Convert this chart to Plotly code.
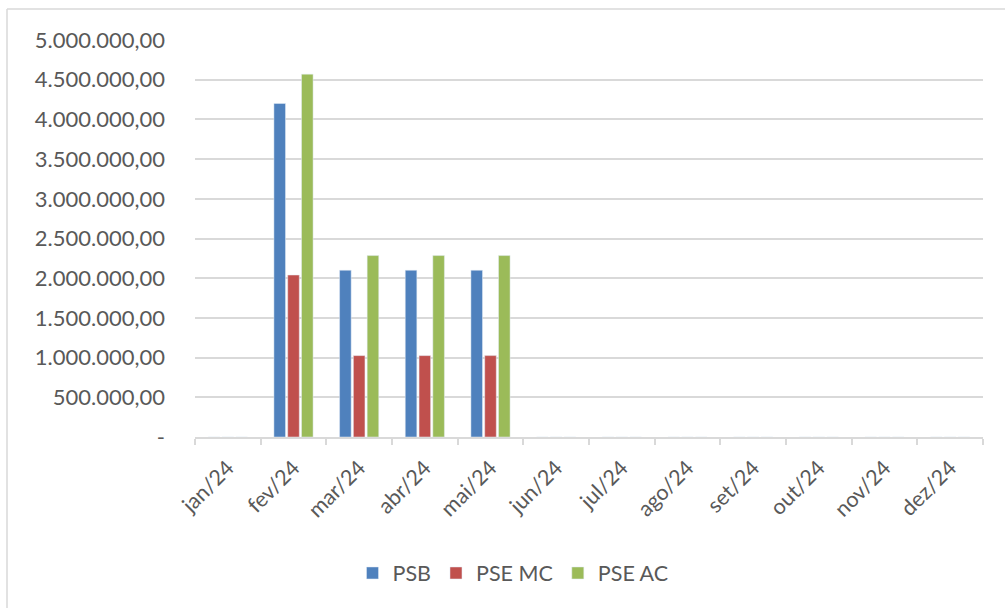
import plotly.graph_objects as go

months = ["jan/24", "fev/24", "mar/24", "abr/24", "mai/24", "jun/24",
          "jul/24", "ago/24", "set/24", "out/24", "nov/24", "dez/24"]
psb = [0, 4200000, 2100000, 2100000, 2100000, 0, 0, 0, 0, 0, 0, 0]
pse_mc = [0, 2040000, 1025000, 1025000, 1025000, 0, 0, 0, 0, 0, 0, 0]
pse_ac = [0, 4570000, 2285000, 2285000, 2285000, 0, 0, 0, 0, 0, 0, 0]

y_tickvals = [0, 500000, 1000000, 1500000, 2000000, 2500000, 3000000,
              3500000, 4000000, 4500000, 5000000]
y_ticktext = ["-", "500.000,00", "1.000.000,00", "1.500.000,00", "2.000.000,00",
              "2.500.000,00", "3.000.000,00", "3.500.000,00", "4.000.000,00",
              "4.500.000,00", "5.000.000,00"]

FONT = "Lato, Open Sans, sans-serif"
GRID = "#d9d9d9"
TXT = "#595959"

fig = go.Figure()
fig.add_trace(go.Bar(name="PSB", x=months, y=psb, marker_color="#4F81BD"))
fig.add_trace(go.Bar(name="PSE MC", x=months, y=pse_mc, marker_color="#C0504D"))
fig.add_trace(go.Bar(name="PSE AC", x=months, y=pse_ac, marker_color="#9BBB59"))

W, H = 1005, 608
L, R, T, B = 195, 22, 40, 171
pw, ph = W - L - R, H - T - B

def px(x):
    return (x - L) / pw

def py(y):
    return (H - B - y) / ph

fig.update_layout(
    width=W, height=H,
    margin=dict(l=L, r=R, t=T, b=B, pad=0),
    paper_bgcolor="white", plot_bgcolor="white",
    barmode="group", bargap=0.37, bargroupgap=0.16,
    font=dict(family=FONT, color=TXT, size=21),
    showlegend=True,
    legend=dict(orientation="h", xref="container", yref="container",
                x=513 / W, xanchor="center", y=1 - 573 / H, yanchor="middle",
                font=dict(size=21.5, color=TXT), itemwidth=30,
                traceorder="normal"),
    xaxis=dict(type="category", showline=True, linecolor=GRID, linewidth=1.5,
               ticks="outside", tickson="boundaries", ticklen=6,
               tickcolor=GRID, tickwidth=1.5, tickangle=-45,
               ticklabelstandoff=8,
               tickfont=dict(size=21.5, color=TXT), showgrid=False),
    yaxis=dict(range=[0, 5000000], tickvals=y_tickvals, ticktext=y_ticktext,
               showgrid=True, gridcolor=GRID, gridwidth=1.5, zeroline=False,
               showline=False, ticks="", ticklabelstandoff=29,
               tickfont=dict(size=22, color=TXT)),
    shapes=[
        dict(type="line", xref="paper", yref="paper", x0=px(7), x1=px(7),
             y0=py(9), y1=py(H + 5), line=dict(color=GRID, width=1.5)),
        dict(type="line", xref="paper", yref="paper", x0=px(7), x1=px(W + 5),
             y0=py(9), y1=py(9), line=dict(color=GRID, width=1.5)),
    ],
)

fig.write_html(
    "out.html",
    config={"displayModeBar": False},
    post_script="document.body.style.margin='0px';document.documentElement.style.margin='0px';",
)
